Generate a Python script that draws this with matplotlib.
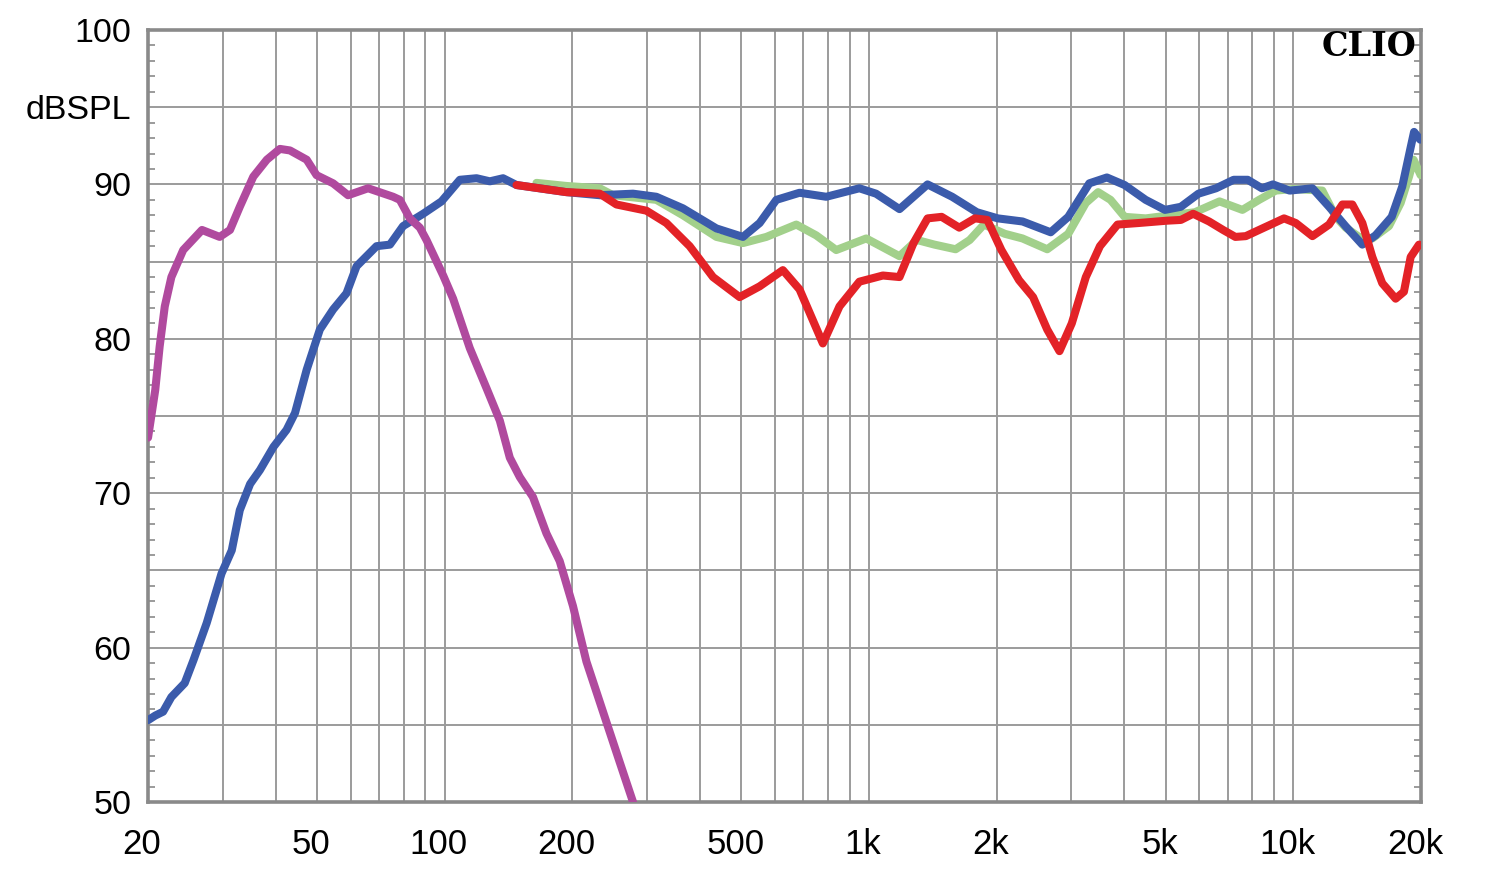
import matplotlib
matplotlib.use("Agg")
import matplotlib.pyplot as plt
import matplotlib.transforms as mtransforms
from matplotlib.ticker import FixedLocator, MultipleLocator, NullFormatter

# Woofer (low pass) response
woofer_hz = [20, 20.8, 21.3, 21.9, 22.7, 24.2, 26.8, 29.5, 31.2, 32.9, 35.4, 38.1, 40.9,
             43.2, 47.3, 49.9, 54.6, 59.2, 66.0, 75.6, 78.4, 82.8, 87.4, 90.6, 99.2,
             104.7, 114.6, 125.5, 134.9, 142.4, 150.3, 161.5, 173.7, 186.7, 200.6,
             215.8, 240.4, 258.4, 277.9]
woofer_db = [73.6, 76.7, 79.5, 82.1, 84.0, 85.75, 87.05, 86.6, 87.05, 88.55, 90.5, 91.6, 92.3,
             92.2, 91.6, 90.6, 90.07, 89.3, 89.75, 89.2, 89.0, 87.8, 87.2, 86.4, 84.1,
             82.6, 79.4, 76.8, 74.7, 72.3, 71.05, 69.75, 67.4, 65.6, 62.7,
             59.1, 55.2, 52.6, 50.0]

# On-axis response
axis_hz = [20, 20.8, 21.7, 22.7, 24.4, 25.6, 27.5, 29.8, 31.5, 32.9, 34.8, 36.7, 39.5,
           42.4, 44.4, 47.3, 50.8, 54.6, 58.7, 62.0, 69.1, 74.3, 79.8, 89.0, 98.3,
           108.6, 118.9, 127.8, 137.3, 147.7, 193.6, 232, 277.9, 315.4, 364.4, 436.9,
           504.6, 552.5, 604.8, 686, 793, 949, 1039, 1180, 1374, 1570, 1795, 2012,
           2300, 2680, 2948, 3305, 3636, 4003, 4487, 4982, 5431, 5975, 6573, 7232,
           7805, 8430, 8950, 9800, 11090, 12140, 13270, 14540, 15620, 17050, 18050,
           18900, 19250, 19900]
axis_db = [55.3, 55.6, 55.85, 56.8, 57.7, 59.2, 61.6, 64.8, 66.3, 68.9, 70.6, 71.5, 73.0,
           74.1, 75.2, 78.0, 80.6, 81.9, 82.95, 84.7, 86.0, 86.1, 87.3, 88.1, 88.9,
           90.3, 90.4, 90.2, 90.4, 89.96, 89.5, 89.3, 89.4, 89.2, 88.45, 87.15,
           86.6, 87.5, 89.0, 89.46, 89.2, 89.75, 89.4, 88.4, 90.0, 89.2, 88.2, 87.8,
           87.6, 86.9, 87.9, 90.07, 90.45, 89.96, 89.0, 88.35, 88.55, 89.4, 89.75, 90.3,
           90.3, 89.75, 90.0, 89.6, 89.75, 88.55, 87.3, 86.1, 86.7, 87.9, 89.85,
           92.4, 93.4, 92.9]

# 15 degree off-axis
off15_hz = [164.6, 193.6, 232, 249.4, 315.4, 364.4, 436.9, 504.6, 572.8, 674, 751, 837,
            985, 1180, 1297, 1427, 1600, 1727, 1865, 2090, 2300, 2630, 2948, 3243,
            3467, 3708, 4003, 4487, 5127, 5861, 6699, 7584, 8303, 9090, 10000, 11700,
            12590, 13290, 14280, 15350, 16800, 17900, 18730, 19200, 19950]
off15_db = [90.1, 89.9, 89.75, 89.3, 89.0, 88.0, 86.6, 86.2, 86.6, 87.4, 86.7, 85.75,
            86.5, 85.35, 86.4, 86.1, 85.8, 86.4, 87.4, 86.8, 86.5, 85.8, 86.8, 88.8,
            89.5, 89.0, 87.9, 87.8, 88.0, 88.2, 88.9, 88.35, 89.0, 89.6, 89.7, 89.6,
            87.9, 87.2, 86.6, 86.5, 87.3, 88.8, 90.5, 91.6, 90.6]

# 30 degree off-axis
off30_hz = [147.7, 193.6, 232, 254, 298.8, 333, 377.9, 428.9, 495.6, 552.5, 626.6, 686,
            778.5, 852, 949, 1078, 1180, 1273, 1374, 1483, 1632, 1777, 1900, 2051,
            2257, 2436, 2630, 2811, 3005, 3243, 3501, 3852, 4318, 5031, 5431, 5806,
            6329, 6831, 7300, 7725, 8453, 9508, 10130, 11090, 12140, 13050, 13770,
            14540, 15350, 16200, 17420, 18220, 18900, 19770]
off30_db = [89.96, 89.5, 89.4, 88.7, 88.3, 87.5, 86.0, 84.0, 82.7, 83.4, 84.45, 83.2,
            79.7, 82.1, 83.7, 84.1, 84.0, 86.2, 87.8, 87.9, 87.2, 87.8, 87.7, 85.75,
            83.8, 82.7, 80.6, 79.2, 81.0, 84.0, 86.0, 87.4, 87.5, 87.65, 87.7, 88.1,
            87.6, 87.05, 86.6, 86.65, 87.15, 87.8, 87.5, 86.65, 87.4, 88.7, 88.7,
            87.5, 85.3, 83.6, 82.6, 83.05, 85.3, 86.1]

x_grid = [20, 30, 40, 50, 60, 70, 80, 90, 100, 200, 300, 400, 500, 600, 700, 800, 900,
          1000, 2000, 3000, 4000, 5000, 6000, 7000, 8000, 9000, 10000, 20000]
x_ticks = [20, 50, 100, 200, 500, 1000, 2000, 5000, 10000, 20000]
x_labels = ["20", "50", "100", "200", "500", "1k", "2k", "5k", "10k", "20k"]
y_ticks = [50, 55, 60, 65, 70, 75, 80, 85, 90, 95, 100]
y_labels = ["50", "", "60", "", "70", "", "80", "", "90", "dBSPL", "100"]

grid_color = "#9b9b9b"
frame_color = "#8a8a8a"
lw = 5.8

fig = plt.figure(figsize=(15, 8.75), dpi=100)
ax = fig.add_axes([0.0987, 0.0834, 0.8487, 0.8823])

ax.plot(off15_hz, off15_db, color="#a2d08b", lw=lw, zorder=3,
        solid_capstyle="round", solid_joinstyle="round")
ax.plot(axis_hz, axis_db, color="#3b5bab", lw=lw, zorder=4,
        solid_capstyle="round", solid_joinstyle="round")
ax.plot(off30_hz, off30_db, color="#e32227", lw=lw, zorder=5,
        solid_capstyle="round", solid_joinstyle="round")
ax.plot(woofer_hz, woofer_db, color="#b04a9e", lw=lw, zorder=6,
        solid_capstyle="round", solid_joinstyle="round")

ax.set_xscale("log")
ax.set_xlim(20, 20000)
ax.set_ylim(50, 100)

# x axis: labels on a few, grid on every 1..9 step
ax.xaxis.set_major_locator(FixedLocator(x_ticks))
ax.xaxis.set_minor_locator(FixedLocator(x_grid))
ax.xaxis.set_minor_formatter(NullFormatter())
ax.set_xticklabels(x_labels)
ax.tick_params(axis="x", which="both", length=0, pad=19, labelsize=25)

# y axis: grid every 5 dB, small inner ticks every 1 dB
ax.set_yticks(y_ticks)
ax.set_yticklabels(y_labels)
ax.yaxis.set_minor_locator(MultipleLocator(1))
ax.tick_params(axis="y", which="major", length=0, pad=12, labelsize=24.5)
ax.tick_params(axis="y", which="minor", direction="in", length=5, width=1.2,
               color=frame_color, left=True, right=True)

for label in ax.get_xticklabels() + ax.get_yticklabels():
    label.set_family("Liberation Sans")
offset = mtransforms.ScaledTranslation(-0.06, 0, fig.dpi_scale_trans)
for label in ax.get_xticklabels():
    label.set_transform(label.get_transform() + offset)

ax.grid(True, axis="x", which="both", color=grid_color, lw=1.4, zorder=1)
ax.grid(True, axis="y", which="major", color=grid_color, lw=1.4, zorder=1)
ax.set_axisbelow(True)

for spine in ax.spines.values():
    spine.set_color(frame_color)
    spine.set_linewidth(2.6)

ax.text(0.9965, 0.978, "CLIO", transform=ax.transAxes, ha="right", va="center",
        fontsize=24, fontweight="bold", family="DejaVu Serif", color="black", zorder=7)

fig.savefig("out.png", dpi=100, facecolor="white")
